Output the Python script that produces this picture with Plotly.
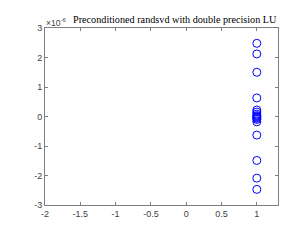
import plotly.graph_objects as go

# values in units of 1e-6
x_vals = [1]*17
y_vals = [2.48, 2.12, 1.50, 0.63, 0.22, 0.15, 0.08, 0.03, 0.0, -0.03, -0.06, -0.1, -0.18, -0.63, -1.49, -2.09, -2.47]
x_ticks = [-2, -1.5, -1, -0.5, 0, 0.5, 1]
x_tick_labels = ["-2", "-1.5", "-1", "-0.5", "0", "0.5", "1"]
y_ticks = [-3, -2, -1, 0, 1, 2, 3]
y_tick_labels = ["-3", "-2", "-1", "0", "1", "2", "3"]
title_text = "Preconditioned randsvd with double precision LU"

OFF = 8  # default page body margin
W, H = 292 - OFF, 240 - OFF
L, R, T, B = 45 - OFF, 14, 28 - OFF, 35
pw, ph = W - L - R, H - T - B

def px(xw):
    return (xw - OFF - L) / pw

def py(yw):
    return (H - (yw - OFF) - B) / ph

fig = go.Figure()
fig.add_trace(go.Scatter(
    x=x_vals, y=y_vals, mode="markers",
    marker=dict(symbol="circle-open", size=8, color="#0000ff", line=dict(width=1, color="#0000ff")),
    showlegend=False, cliponaxis=False))

axis_common = dict(
    showgrid=False, zeroline=False, showline=True, linecolor="#7f7f7f", linewidth=1,
    mirror="ticks", ticks="inside", ticklen=3, tickcolor="#7f7f7f",
    tickfont=dict(family="Liberation Sans, Arial", size=9, color="#404040"))

fig.update_layout(
    width=W, height=H, autosize=False,
    margin=dict(l=L, r=R, t=T, b=B, autoexpand=False),
    paper_bgcolor="white", plot_bgcolor="white",
    xaxis=dict(range=[-2, 1.3], tickvals=x_ticks, ticktext=x_tick_labels, **axis_common),
    yaxis=dict(range=[-3, 3], tickvals=y_ticks, ticktext=y_tick_labels, **axis_common),
    annotations=[
        dict(text=title_text, x=px(71), y=py(20), xref="paper", yref="paper", showarrow=False,
             font=dict(family="Liberation Serif", size=10.2, color="black"),
             xanchor="left", yanchor="middle"),
        dict(text="×10<sup>-6</sup>", x=px(44), y=py(23), xref="paper", yref="paper",
             showarrow=False, font=dict(family="Liberation Sans, Arial", size=8.5, color="#404040"),
             xanchor="left", yanchor="middle"),
    ],
)

fig.write_html("out.html")
